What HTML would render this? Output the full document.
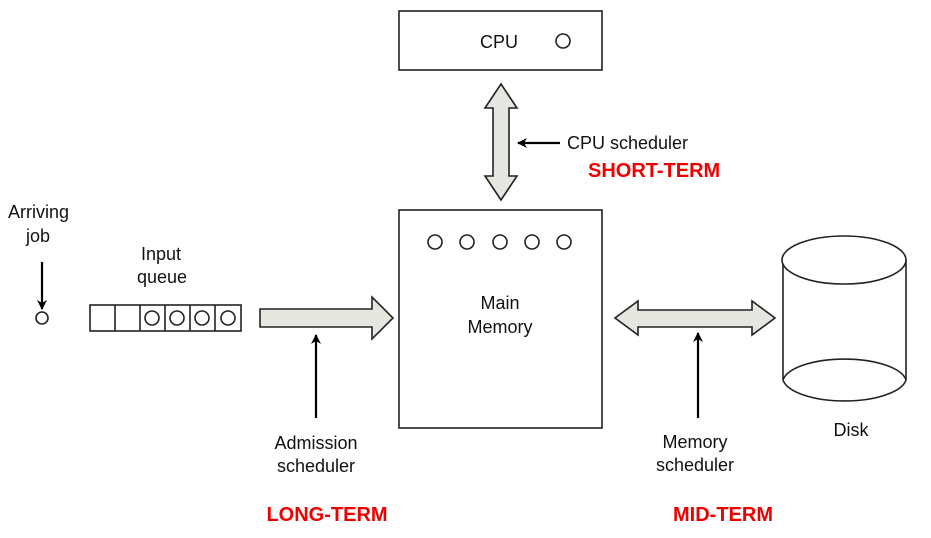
<!DOCTYPE html>
<html><head><style>body{margin:0;background:#fff}svg{display:block}text{font-family:"Liberation Sans",sans-serif;font-size:18px;fill:#111}.r{fill:#e00;font-weight:bold;font-size:20px}</style></head><body>
<svg width="931" height="538" viewBox="0 0 931 538">
<defs><marker id="a" markerWidth="10" markerHeight="10" refX="9" refY="5" orient="auto" markerUnits="userSpaceOnUse"><path d="M0,0 L10,5 L0,10 L3,5z" fill="#000"/></marker></defs>
<g stroke="#222" stroke-width="1.6" fill="none">
<rect x="399" y="11" width="203" height="59" fill="#fff"/>
<rect x="399" y="210" width="203" height="218" fill="#fff"/>
<circle cx="563" cy="41" r="7"/>
<circle cx="435" cy="242" r="7"/><circle cx="467" cy="242" r="7"/><circle cx="500" cy="242" r="7"/><circle cx="532" cy="242" r="7"/><circle cx="564" cy="242" r="7"/>
<rect x="90" y="305" width="151" height="26"/>
<line x1="115" y1="305" x2="115" y2="331"/><line x1="140" y1="305" x2="140" y2="331"/><line x1="165" y1="305" x2="165" y2="331"/><line x1="190" y1="305" x2="190" y2="331"/><line x1="215" y1="305" x2="215" y2="331"/>
<circle cx="152" cy="318" r="7"/><circle cx="177" cy="318" r="7"/><circle cx="202" cy="318" r="7"/><circle cx="228" cy="318" r="7"/>
<circle cx="42" cy="318" r="6"/>
<path d="M783,260 L783,380 M906,260 L906,380"/>
<ellipse cx="844" cy="260" rx="62" ry="24" fill="#fff"/>
<path d="M783,380 A62,24 0 0 0 906,380 A62,24 0 0 0 783,380"/>
<path fill="#e6e6e1" d="M493,108 L485,108 L501,84 L517,108 L509,108 L509,176 L517,176 L501,200 L485,176 L493,176Z"/>
<path fill="#e6e6e1" d="M260,309 L372,309 L372,297 L393,318 L372,339 L372,327 L260,327Z"/>
<path fill="#e6e6e1" d="M615,318 L638,301 L638,310 L752,310 L752,301 L775,318 L752,335 L752,327 L638,327 L638,335Z"/>
</g>
<g stroke="#000" stroke-width="2.2" marker-end="url(#a)">
<line x1="42" y1="262" x2="42" y2="309"/>
<line x1="316" y1="418" x2="316" y2="335"/>
<line x1="698" y1="418" x2="698" y2="333"/>
<line x1="560" y1="143" x2="518" y2="143"/>
</g>
<text x="480" y="48">CPU</text>
<text x="567" y="149">CPU scheduler</text>
<text class="r" x="588" y="177">SHORT-TERM</text>
<text x="8" y="218">Arriving</text>
<text x="26" y="242">job</text>
<text x="141" y="260">Input</text>
<text x="137" y="283">queue</text>
<text x="500" y="309" text-anchor="middle">Main</text>
<text x="500" y="333" text-anchor="middle">Memory</text>
<text x="316" y="449" text-anchor="middle">Admission</text>
<text x="316" y="472" text-anchor="middle">scheduler</text>
<text x="695" y="448" text-anchor="middle">Memory</text>
<text x="695" y="471" text-anchor="middle">scheduler</text>
<text x="851" y="436" text-anchor="middle">Disk</text>
<text class="r" x="327" y="521" text-anchor="middle">LONG-TERM</text>
<text class="r" x="723" y="521" text-anchor="middle">MID-TERM</text>
</svg>
</body></html>
